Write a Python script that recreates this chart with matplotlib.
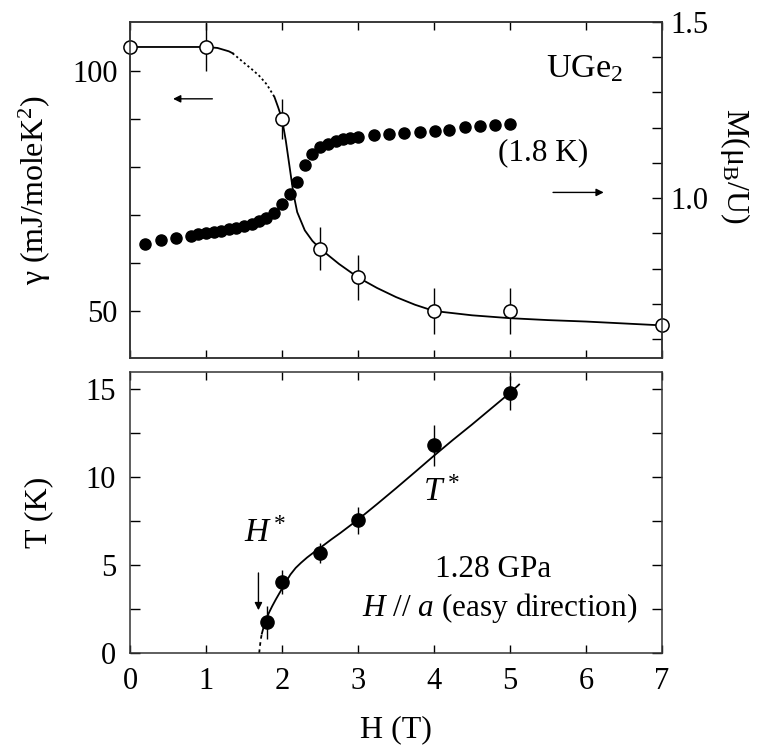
import matplotlib
matplotlib.use("Agg")
import matplotlib.pyplot as plt
import numpy as np

plt.rcParams['font.family'] = ['Liberation Serif', 'DejaVu Serif']
plt.rcParams['mathtext.fontset'] = 'custom'
plt.rcParams['mathtext.rm'] = 'Liberation Serif'
plt.rcParams['mathtext.it'] = 'Liberation Serif:italic'
plt.rcParams['font.size'] = 22

# gamma(H), open circles, left axis of the top panel
gam_h = [0, 1, 2, 2.5, 3, 4, 5, 7]
gam_v = [105, 105, 90, 63, 57, 50, 50, 47]
gam_err = [0, 5, 4.2, 4.5, 4.7, 4.8, 4.7, 0]

# guide line through gamma: solid / dotted / solid
gam_line1_h = [0, 0.5, 1.0, 1.15, 1.3, 1.35]
gam_line1_v = [105, 105, 105, 104.8, 104.1, 103.7]
gam_dot_h = [1.35, 1.5, 1.6, 1.7, 1.8, 1.85, 1.9]
gam_dot_v = [103.7, 101.7, 100.4, 99.0, 97.2, 95.9, 94.6]
gam_line2_h = [1.9, 1.95, 2.0, 2.05, 2.1, 2.15, 2.2, 2.3, 2.4, 2.5, 2.75,
               3.0, 3.25, 3.5, 3.75, 4.0, 4.5, 5.0, 5.5, 6.0, 6.5, 7.0]
gam_line2_v = [94.6, 92.4, 90, 85.5, 80, 74.5, 70.6, 66.8, 64.6, 63.0, 59.8,
               57.0, 54.8, 52.9, 51.3, 50.0, 49.1, 48.5, 48.1, 47.8, 47.4, 47.0]

# magnetisation at 1.8 K, filled circles, right axis
mag_h = [0.2, 0.41, 0.6, 0.8, 0.9, 1.0, 1.1, 1.2, 1.3, 1.4, 1.5, 1.6, 1.7,
         1.79, 1.89, 2.0, 2.1, 2.2, 2.3, 2.4, 2.5, 2.6, 2.71, 2.8, 2.9, 3.0,
         3.21, 3.41, 3.6, 3.81, 4.01, 4.2, 4.41, 4.61, 4.8, 5.0]
mag_v = [0.871, 0.881, 0.886, 0.893, 0.898, 0.901, 0.903, 0.907, 0.911,
         0.916, 0.920, 0.927, 0.934, 0.944, 0.957, 0.982, 1.011, 1.047,
         1.094, 1.126, 1.145, 1.155, 1.162, 1.168, 1.171, 1.174, 1.179,
         1.181, 1.185, 1.188, 1.190, 1.193, 1.202, 1.205, 1.207, 1.211]

# T*(H), bottom panel
ts_h = [1.8, 2.0, 2.5, 3.0, 4.0, 5.0]
ts_v = [1.74, 4.05, 5.68, 7.53, 11.78, 14.77]
ts_err = [0.95, 0.68, 0.57, 0.76, 1.18, 0.95]

ts_dash_h = [1.70, 1.71, 1.72, 1.735]
ts_dash_v = [0.0, 0.4, 0.76, 1.1]
ts_line_h = [1.735, 1.76, 1.79, 1.83, 1.87, 1.92, 1.98, 2.04, 2.11, 2.18,
             2.25, 2.33, 2.43, 2.53, 2.65, 2.77, 2.88, 3.0, 3.25, 3.5, 3.75,
             4.0, 4.25, 4.5, 4.75, 5.0, 5.12]
ts_line_v = [1.1, 1.5, 1.89, 2.3, 2.65, 3.05, 3.5, 3.95, 4.45, 4.83,
             5.12, 5.42, 5.75, 6.06, 6.45, 6.82, 7.18, 7.57, 8.45, 9.35, 10.27,
             11.2, 12.1, 12.97, 13.87, 14.77, 15.24]

fig = plt.figure(figsize=(7.63, 7.49), dpi=100)
ax1 = fig.add_axes([0.1704, 0.522, 0.6972, 0.4486])
ax2 = fig.add_axes([0.1704, 0.1282, 0.6972, 0.3751])
ax1r = ax1.twinx()

# ---- top panel
ax1.plot(gam_line1_h, gam_line1_v, c='k', lw=1.3, zorder=2)
ax1.plot(gam_dot_h, gam_dot_v, c='k', lw=1.3, ls=(0, (1.2, 1.5)), zorder=2)
ax1.plot(gam_line2_h, gam_line2_v, c='k', lw=1.3, zorder=2)
ax1.errorbar(gam_h, gam_v, yerr=gam_err, fmt='o', ms=9.5, mfc='white',
             mec='k', mew=1.1, ecolor='k', elinewidth=1.0, capsize=0,
             zorder=4, clip_on=False)
ax1r.plot(mag_h, mag_v, 'o', ms=8, c='k', zorder=3)

ax1.set_xlim(0, 7)
ax1.set_ylim(40.2, 110.2)
ax1r.set_ylim(0.546, 1.5)
ax1.set_yticks([50, 100])
ax1.set_yticks([60, 70, 80, 90], minor=True)
ax1r.set_yticks([1.0, 1.5])
ax1r.set_yticks(np.arange(0.6, 1.45, 0.1), minor=True)
ax1r.set_yticklabels(['1.0', '1.5'])
ax1.set_xticks(range(8))
ax1.tick_params(axis='x', which='both', direction='in', top=True,
                labelbottom=False, length=6, width=1)
ax1.tick_params(axis='y', which='both', direction='in', length=7, width=1,
                labelsize=22, pad=9)
ax1r.tick_params(axis='y', which='both', direction='in', length=7, width=1,
                 labelsize=22, pad=6)
ax1.set_ylabel('γ (mJ/moleK$^2$)', fontsize=23)
ax1.yaxis.set_label_coords(-0.145, 0.5)
ax1r.set_ylabel('M(μ$_\\mathrm{B}$/U)', fontsize=23, rotation=270)
ax1r.yaxis.set_label_coords(1.169, 0.571)

ax1.text(5.98, 100.5, 'UGe$_2$', fontsize=24.5, ha='center', va='center')
ax1.text(5.44, 83.0, '(1.8 K)', fontsize=22.5, ha='center', va='center')
ax1.annotate('', xy=(0.53, 94.2), xytext=(1.12, 94.2),
             arrowprops=dict(arrowstyle='-|>', color='k', lw=1,
                             mutation_scale=11))
ax1.annotate('', xy=(6.27, 74.7), xytext=(5.53, 74.7),
             arrowprops=dict(arrowstyle='-|>', color='k', lw=1,
                             mutation_scale=11))

# ---- bottom panel
ax2.plot(ts_dash_h, ts_dash_v, c='k', lw=1.3, ls=(0, (2, 2)))
ax2.plot(ts_line_h, ts_line_v, c='k', lw=1.3)
ax2.errorbar(ts_h, ts_v, yerr=ts_err, fmt='o', ms=9.5, c='k',
             elinewidth=1.0, capsize=0, zorder=4)

ax2.set_xlim(0, 7)
ax2.set_ylim(0, 15.95)
ax2.set_xticks(range(8))
ax2.set_yticks([0, 5, 10, 15])
ax2.set_yticks([2.5, 7.5, 12.5], minor=True)
ax2.tick_params(axis='both', which='both', direction='in', top=True,
                right=True, length=7, width=1, labelsize=22, pad=10)
ax2.tick_params(axis='x', length=6, pad=10)
ax2.set_xlabel('H (T)', fontsize=23)
ax2.xaxis.set_label_coords(0.5, -0.221)
ax2.set_ylabel('T (K)', fontsize=23)
ax2.yaxis.set_label_coords(-0.145, 0.5)

ax2.text(1.78, 6.8, '$H^*$', fontsize=24, ha='center', va='center')
ax2.text(4.09, 9.1, '$T^*$', fontsize=24, ha='center', va='center')
ax2.text(4.78, 4.73, '1.28 GPa', fontsize=22.5, ha='center', va='center')
ax2.text(4.87, 2.57, '$H$ // $a$ (easy direction)', fontsize=22.5,
         ha='center', va='center')
ax2.annotate('', xy=(1.69, 2.27), xytext=(1.69, 4.7),
             arrowprops=dict(arrowstyle='-|>', color='k', lw=1,
                             mutation_scale=11))

for ax in (ax1, ax1r, ax2):
    for s in ax.spines.values():
        s.set_linewidth(1.1)
        s.set_color('#333333')

fig.savefig('out.png', dpi=100)
